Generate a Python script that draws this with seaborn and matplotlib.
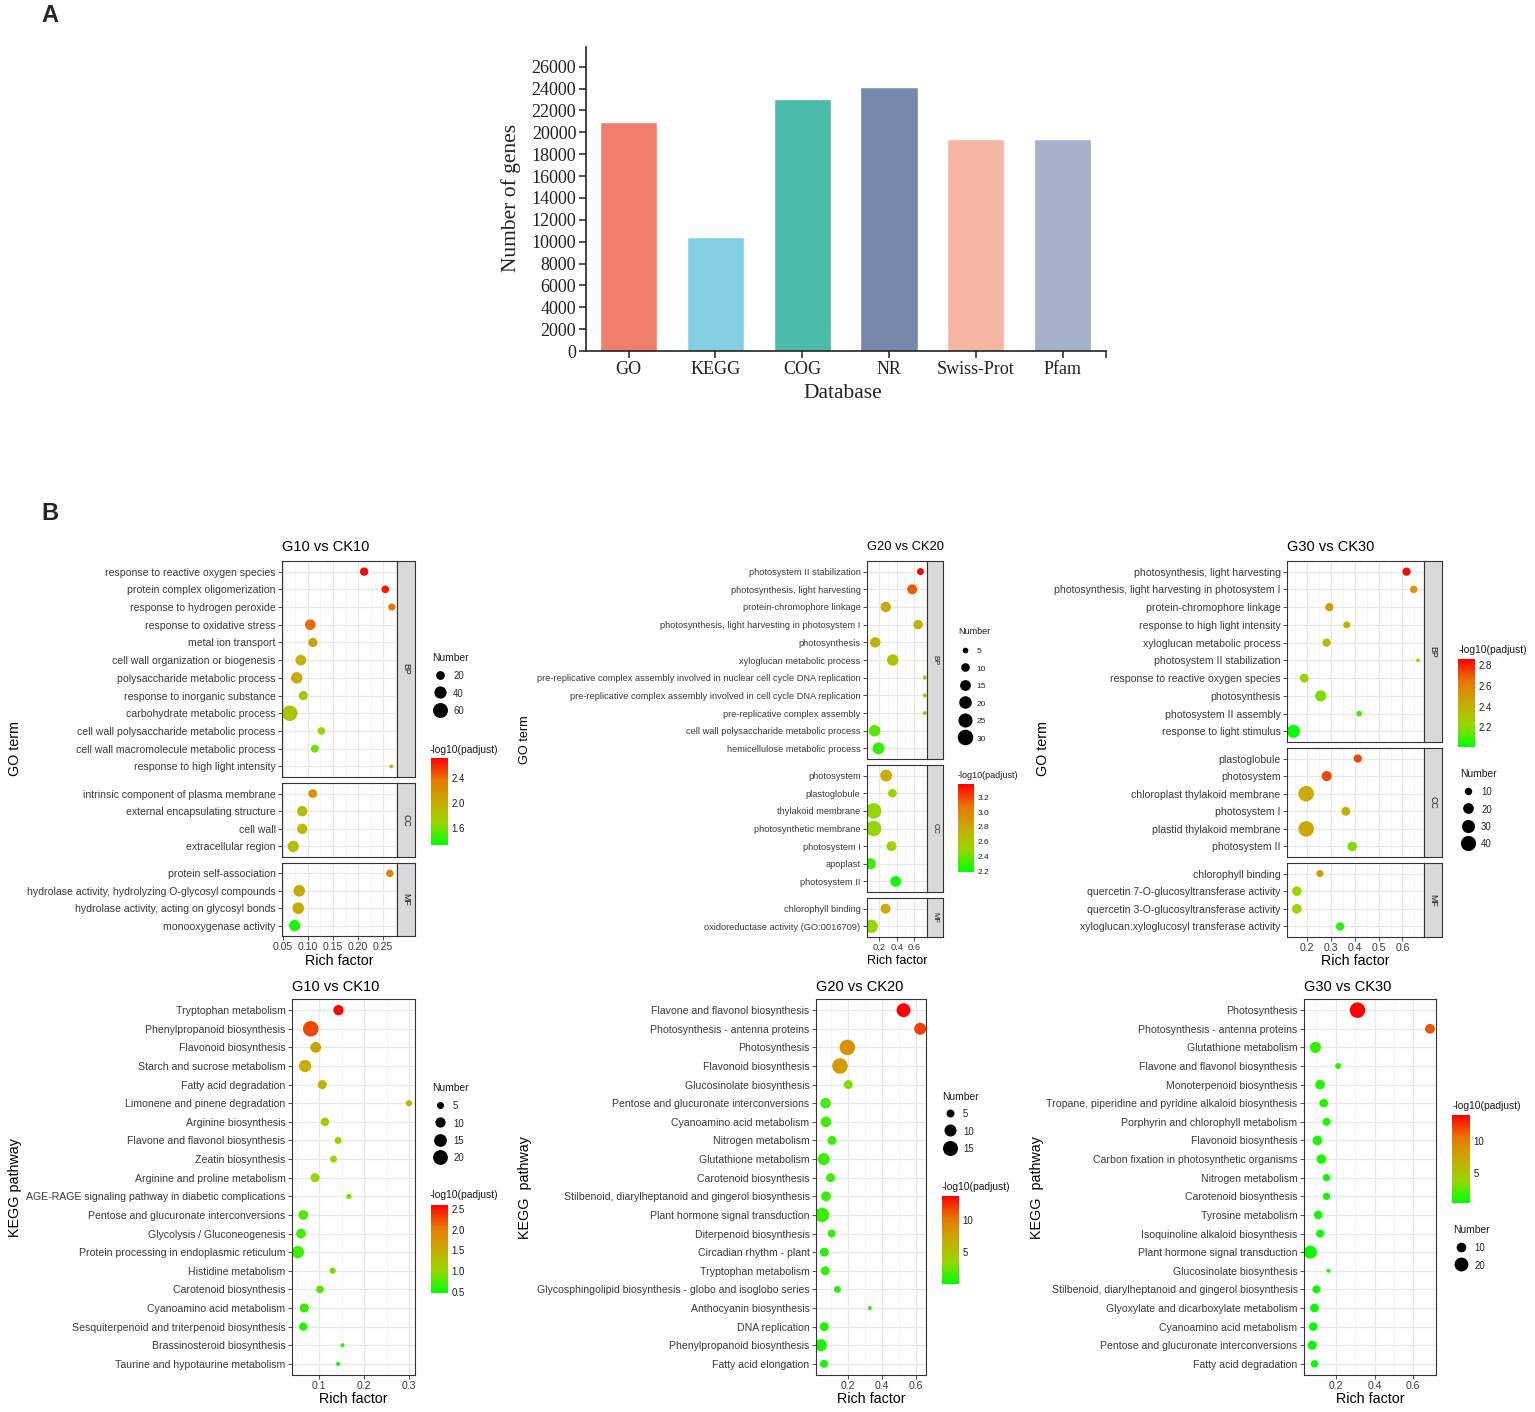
import numpy as np
import pandas as pd
import matplotlib
matplotlib.use("Agg")
import matplotlib.pyplot as plt
import seaborn as sns
from matplotlib.colors import LinearSegmentedColormap, Normalize
from matplotlib.cm import ScalarMappable
from matplotlib.lines import Line2D
from matplotlib.ticker import MultipleLocator, AutoMinorLocator, FormatStrFormatter

W, H = 1535, 1412

# ---------------- A: annotated genes per database ----------------
databases = ["GO", "KEGG", "COG", "NR", "Swiss-Prot", "Pfam"]
gene_counts = [20950, 10420, 23000, 24100, 19370, 19400]
bar_colors = ["#F07F6F", "#84CFE2", "#4ABBA8", "#7887AC", "#F6B5A3", "#A4B1C9"]
count_ticks = list(range(0, 26001, 2000))

# ---------------- B: GO enrichment ----------------
go10_terms = [
    "response to reactive oxygen species", "protein complex oligomerization",
    "response to hydrogen peroxide", "response to oxidative stress", "metal ion transport",
    "cell wall organization or biogenesis", "polysaccharide metabolic process",
    "response to inorganic substance", "carbohydrate metabolic process",
    "cell wall polysaccharide metabolic process", "cell wall macromolecule metabolic process",
    "response to high light intensity",
    "intrinsic component of plasma membrane", "external encapsulating structure", "cell wall",
    "extracellular region",
    "protein self-association", "hydrolase activity, hydrolyzing O-glycosyl compounds",
    "hydrolase activity, acting on glycosyl bonds", "monooxygenase activity"]
go10_class = ["BP"] * 12 + ["CC"] * 4 + ["MF"] * 4
go10_rich = [0.212, 0.254, 0.267, 0.105, 0.110, 0.086, 0.078, 0.091, 0.064, 0.127, 0.114, 0.266,
             0.110, 0.089, 0.089, 0.071, 0.263, 0.083, 0.081, 0.074]
go10_num = [18, 15, 13, 30, 22, 30, 35, 22, 65, 15, 16, 3, 20, 28, 28, 34, 14, 36, 36, 34]
go10_logp = [2.70, 2.65, 2.37, 2.40, 2.09, 1.99, 2.02, 1.81, 1.81, 1.67, 1.57, 1.67,
             2.16, 1.91, 1.91, 1.85, 2.30, 2.02, 2.02, 1.39]
go10_cbar_ticks = [1.6, 2.0, 2.4]
go10_size_keys = [20, 40, 60]

go20_terms = [
    "photosystem II stabilization", "photosynthesis, light harvesting",
    "protein-chromophore linkage", "photosynthesis, light harvesting in photosystem I",
    "photosynthesis", "xyloglucan metabolic process",
    "pre-replicative complex assembly involved in nuclear cell cycle DNA replication",
    "pre-replicative complex assembly involved in cell cycle DNA replication",
    "pre-replicative complex assembly", "cell wall polysaccharide metabolic process",
    "hemicellulose metabolic process",
    "photosystem", "plastoglobule", "thylakoid membrane", "photosynthetic membrane",
    "photosystem I", "apoplast", "photosystem II",
    "chlorophyll binding", "oxidoreductase activity (GO:0016709)"]
go20_class = ["BP"] * 11 + ["CC"] * 7 + ["MF"] * 2
go20_rich = [0.672, 0.577, 0.275, 0.645, 0.155, 0.355, 0.721, 0.721, 0.721, 0.147, 0.192,
             0.279, 0.351, 0.136, 0.136, 0.340, 0.098, 0.389, 0.272, 0.109]
go20_num = [7, 13, 14, 12, 14, 17, 3, 3, 3, 17, 18, 18, 10, 30, 30, 13, 16, 15, 13, 22]
go20_logp = [3.37, 3.14, 2.78, 2.73, 2.73, 2.61, 2.55, 2.55, 2.55, 2.37, 2.29,
             2.78, 2.52, 2.48, 2.48, 2.52, 2.30, 2.22, 2.78, 2.48]
go20_cbar_ticks = [2.2, 2.4, 2.6, 2.8, 3.0, 3.2]
go20_size_keys = [5, 10, 15, 20, 25, 30]

go30_terms = [
    "photosynthesis, light harvesting", "photosynthesis, light harvesting in photosystem I",
    "protein-chromophore linkage", "response to high light intensity",
    "xyloglucan metabolic process", "photosystem II stabilization",
    "response to reactive oxygen species", "photosynthesis", "photosystem II assembly",
    "response to light stimulus",
    "plastoglobule", "photosystem", "chloroplast thylakoid membrane", "photosystem I",
    "plastid thylakoid membrane", "photosystem II",
    "chlorophyll binding", "quercetin 7-O-glucosyltransferase activity",
    "quercetin 3-O-glucosyltransferase activity", "xyloglucan:xyloglucosyl transferase activity"]
go30_class = ["BP"] * 10 + ["CC"] * 6 + ["MF"] * 4
go30_rich = [0.617, 0.647, 0.294, 0.367, 0.283, 0.665, 0.189, 0.258, 0.419, 0.144,
             0.413, 0.283, 0.197, 0.363, 0.197, 0.390, 0.255, 0.158, 0.158, 0.339]
go30_num = [12, 10, 12, 9, 12, 3, 14, 22, 6, 30, 12, 18, 42, 14, 42, 16, 9, 16, 16, 12]
go30_logp = [2.85, 2.52, 2.50, 2.39, 2.36, 2.27, 2.24, 2.18, 2.10, 2.02,
             2.73, 2.73, 2.44, 2.42, 2.44, 2.18, 2.52, 2.22, 2.22, 2.05]
go30_cbar_ticks = [2.2, 2.4, 2.6, 2.8]
go30_size_keys = [10, 20, 30, 40]

# ---------------- B: KEGG enrichment ----------------
kegg10_terms = [
    "Tryptophan metabolism", "Phenylpropanoid biosynthesis", "Flavonoid biosynthesis",
    "Starch and sucrose metabolism", "Fatty acid degradation", "Limonene and pinene degradation",
    "Arginine biosynthesis", "Flavone and flavonol biosynthesis", "Zeatin biosynthesis",
    "Arginine and proline metabolism", "AGE-RAGE signaling pathway in diabetic complications",
    "Pentose and glucuronate interconversions", "Glycolysis / Gluconeogenesis",
    "Protein processing in endoplasmic reticulum", "Histidine metabolism",
    "Carotenoid biosynthesis", "Cyanoamino acid metabolism",
    "Sesquiterpenoid and triterpenoid biosynthesis", "Brassinosteroid biosynthesis",
    "Taurine and hypotaurine metabolism"]
kegg10_rich = [0.143, 0.0815, 0.0926, 0.069, 0.107, 0.299, 0.113, 0.142, 0.132, 0.091,
               0.166, 0.065, 0.060, 0.053, 0.130, 0.102, 0.067, 0.065, 0.152, 0.142]
kegg10_num = [10, 22, 11, 14, 8, 4, 7, 5, 5, 8, 3, 9, 9, 14, 4, 6, 8, 7, 2, 2]
kegg10_logp = [2.58, 2.28, 1.64, 1.49, 1.43, 1.36, 1.11, 1.00, 1.00, 1.05, 0.90, 0.75, 0.70,
               0.68, 0.85, 0.78, 0.64, 0.60, 0.56, 0.50]
kegg10_cbar_ticks = [0.5, 1.0, 1.5, 2.0, 2.5]
kegg10_size_keys = [5, 10, 15, 20]

kegg20_terms = [
    "Flavone and flavonol biosynthesis", "Photosynthesis - antenna proteins", "Photosynthesis",
    "Flavonoid biosynthesis", "Glucosinolate biosynthesis",
    "Pentose and glucuronate interconversions", "Cyanoamino acid metabolism",
    "Nitrogen metabolism", "Glutathione metabolism", "Carotenoid biosynthesis",
    "Stilbenoid, diarylheptanoid and gingerol biosynthesis", "Plant hormone signal transduction",
    "Diterpenoid biosynthesis", "Circadian rhythm - plant", "Tryptophan metabolism",
    "Glycosphingolipid biosynthesis - globo and isoglobo series", "Anthocyanin biosynthesis",
    "DNA replication", "Phenylpropanoid biosynthesis", "Fatty acid elongation"]
kegg20_rich = [0.526, 0.623, 0.198, 0.155, 0.204, 0.071, 0.073, 0.108, 0.060, 0.100,
               0.073, 0.050, 0.106, 0.063, 0.069, 0.140, 0.329, 0.063, 0.044, 0.061]
kegg20_num = [13, 10, 16, 16, 6, 8, 8, 6, 10, 6, 7, 14, 5, 6, 6, 4, 2, 6, 10, 5]
kegg20_logp = [13.7, 12.0, 8.5, 8.0, 2.8, 1.6, 1.5, 1.4, 1.4, 1.3, 1.25, 1.2, 1.1, 1.0, 1.0,
               0.9, 0.8, 0.7, 0.6, 0.5]
kegg20_cbar_ticks = [5, 10]
kegg20_size_keys = [5, 10, 15]

kegg30_terms = [
    "Photosynthesis", "Photosynthesis - antenna proteins", "Glutathione metabolism",
    "Flavone and flavonol biosynthesis", "Monoterpenoid biosynthesis",
    "Tropane, piperidine and pyridine alkaloid biosynthesis",
    "Porphyrin and chlorophyll metabolism", "Flavonoid biosynthesis",
    "Carbon fixation in photosynthetic organisms", "Nitrogen metabolism",
    "Carotenoid biosynthesis", "Tyrosine metabolism", "Isoquinoline alkaloid biosynthesis",
    "Plant hormone signal transduction", "Glucosinolate biosynthesis",
    "Stilbenoid, diarylheptanoid and gingerol biosynthesis",
    "Glyoxylate and dicarboxylate metabolism", "Cyanoamino acid metabolism",
    "Pentose and glucuronate interconversions", "Fatty acid degradation"]
kegg30_rich = [0.312, 0.686, 0.095, 0.212, 0.119, 0.138, 0.152, 0.105, 0.126, 0.152,
               0.152, 0.109, 0.119, 0.069, 0.162, 0.100, 0.090, 0.084, 0.078, 0.090]
kegg30_num = [25, 10, 13, 4, 10, 8, 7, 10, 10, 6, 6, 8, 7, 18, 2, 7, 8, 8, 9, 6]
kegg30_logp = [13.8, 11.5, 1.5, 1.4, 1.3, 1.25, 1.2, 1.15, 1.1, 1.0, 1.0, 0.9, 0.9, 0.85,
               0.8, 0.7, 0.7, 0.6, 0.55, 0.5]
kegg30_cbar_ticks = [5, 10]
kegg30_size_keys = [10, 20]


def px(x0, y0, x1, y1):
    # pixel box (top-left origin) -> figure fraction rect
    return [x0 / W, 1 - y1 / H, (x1 - x0) / W, (y1 - y0) / H]


# ggplot-like green -> red gradient (Lab interpolated stops)
cmap = LinearSegmentedColormap.from_list(
    "g2r", ["#00FF00", "#98D700", "#C9AB00", "#E87600", "#FF0000"])
SIZES = (8, 125)
GREY = "#333333"

sns.set_theme(style="white")
plt.rcParams["font.family"] = ["Liberation Sans", "DejaVu Sans"]

fig = plt.figure(figsize=(W / 100, H / 100), dpi=100)

# ---------------- panel A ----------------
axA = fig.add_axes(px(586, 47, 1106, 351))
sns.barplot(x=databases, y=gene_counts, hue=databases, palette=bar_colors, saturation=1,
            width=0.66, legend=False, ax=axA)
axA.set_xlim(-0.49, 5.5)
axA.set_ylim(0, 27800)
axA.set_yticks(count_ticks)
axA.set_xticks([5.5], minor=True)
axA.spines["top"].set_visible(False)
axA.spines["right"].set_visible(False)
for sp in ["left", "bottom"]:
    axA.spines[sp].set_color("#222222")
    axA.spines[sp].set_linewidth(1.2)
axA.tick_params(which="both", direction="out", length=5, width=1.1, color="#222222",
                labelsize=13, labelcolor="#222222", pad=2, left=True, bottom=True)
for lbl in axA.get_xticklabels() + axA.get_yticklabels():
    lbl.set_fontfamily("Liberation Serif")
axA.set_xlabel("")
axA.set_ylabel("")
fig.text(511 / W, 1 - 198 / H, "Number of genes", rotation=90, ha="center", va="center",
         fontsize=15.5, family="Liberation Serif", color="#222222")
fig.text(843 / W, 1 - 393 / H, "Database", ha="center", va="center",
         fontsize=15.5, family="Liberation Serif", color="#222222")
fig.text(50 / W, 1 - 15 / H, "A", ha="center", va="center", fontsize=17, fontweight="bold")
fig.text(50 / W, 1 - 513 / H, "B", ha="center", va="center", fontsize=17, fontweight="bold")


# ---------------- panel B helpers ----------------
def dot_panel(sp):
    s = sp["scale"]
    df = pd.DataFrame({"term": sp["terms"], "cls": sp["cls"], "rich": sp["rich"],
                       "num": sp["num"], "logp": sp["logp"]})
    size_norm = (df["num"].min(), df["num"].max())
    groups = list(dict.fromkeys(df["cls"]))
    axes = []
    for g, (x0, y0, x1, y1) in zip(groups, sp["boxes"]):
        sub = df[df["cls"] == g]
        ax = fig.add_axes(px(x0, y0, x1, y1))
        sns.scatterplot(data=sub, x="rich", y="term", hue="logp", size="num",
                        palette=cmap, hue_norm=sp["cbar_rng"], sizes=SIZES,
                        size_norm=size_norm, linewidth=0, legend=False, ax=ax)
        ax.set_xlim(sp["xlim"])
        ax.set_ylim(len(sub) - 0.4, -0.6)
        ax.xaxis.set_major_locator(MultipleLocator(sp["step"]))
        ax.xaxis.set_minor_locator(AutoMinorLocator(2))
        ax.xaxis.set_major_formatter(FormatStrFormatter(sp["fmt"]))
        ax.set_facecolor("white")
        ax.grid(True, which="major", color="#E8E8E8", lw=0.9)
        ax.grid(True, which="minor", axis="x", color="#F1F1F1", lw=0.5)
        ax.set_axisbelow(True)
        for spn in ax.spines.values():
            spn.set_visible(True)
            spn.set_color(GREY)
            spn.set_linewidth(0.8)
        ax.tick_params(which="major", length=2.6, width=0.6, color=GREY, labelsize=7.6 * s,
                       labelcolor="#3A3A3A", pad=2.0, left=True, bottom=True)
        ax.tick_params(which="minor", length=0)
        ax.set_xlabel("")
        ax.set_ylabel("")
        if sp["strip"]:
            sax = fig.add_axes(px(x1, y0, x1 + sp["strip"], y1))
            sax.set_facecolor("#D9D9D9")
            sax.set_xticks([])
            sax.set_yticks([])
            for spn in sax.spines.values():
                spn.set_color(GREY)
                spn.set_linewidth(0.8)
            sax.text(0.5, 0.5, g, rotation=-90, ha="center", va="center",
                     fontsize=6.3 * s, color="#1A1A1A", transform=sax.transAxes)
        axes.append(ax)
    for ax in axes[:-1]:
        ax.tick_params(axis="x", bottom=False, labelbottom=False)

    x0, x1 = sp["boxes"][0][0], sp["boxes"][0][2]
    fig.text(x0 / W, 1 - sp["title_y"] / H, sp["title"], ha="left", va="center",
             fontsize=10.5 * s, color="black")
    fig.text((x0 + x1) / 2 / W, 1 - sp["xlab_y"] / H, "Rich factor", ha="center",
             va="center", fontsize=10.3 * s, color="black")
    fig.text(sp["ylab_xy"][0] / W, 1 - sp["ylab_xy"][1] / H, sp["ylab"], rotation=90,
             ha="center", va="center", fontsize=10.3 * s, color="black")

    # colour bar
    cx0, cy0, cx1, cy1 = sp["cbar_box"]
    cax = fig.add_axes(px(cx0, cy0, cx1, cy1))
    cb = fig.colorbar(ScalarMappable(norm=Normalize(*sp["cbar_rng"]), cmap=cmap), cax=cax)
    cb.set_ticks(sp["cbar_ticks"])
    cb.outline.set_visible(False)
    cax.tick_params(axis="y", which="major", left=True, right=True, direction="in",
                    length=3, width=0.7, color="white", labelsize=6.9 * s,
                    labelcolor="#1A1A1A", pad=2.5, labelleft=False, labelright=True)
    cax.tick_params(which="minor", length=0)
    tx, ty = sp["cbar_title_xy"]
    fig.text(tx / W, 1 - ty / H, "-log10(padjust)", ha="left", va="center",
             fontsize=7.4 * s, color="#1A1A1A")

    # size legend: title as text, keys as a legend whose first row sits at row0_y
    lo, hi = size_norm
    fs = 6.9 * s
    handles = []
    for v in sp["keys"]:
        area = SIZES[0] + (SIZES[1] - SIZES[0]) * (v - lo) / (hi - lo)
        handles.append(Line2D([], [], ls="", marker="o", color="black", mew=0,
                              ms=np.sqrt(area)))
    lx, ly = sp["leg_xy"]
    fig.text(lx / W, 1 - ly / H, "Number", ha="left", va="center", fontsize=7.4 * s,
             color="#1A1A1A")
    hh = 1.2
    row_top = sp["row0_y"] - hh * fs * 1.389 / 2
    fig.legend(handles, [str(v) for v in sp["keys"]], loc="upper left",
               bbox_to_anchor=(lx / W, 1 - row_top / H), frameon=False,
               fontsize=fs, borderpad=0, borderaxespad=0, handlelength=1.7,
               handleheight=hh, handletextpad=0.5,
               labelspacing=(13.3 - hh * fs) / fs)


panels = [
    dict(terms=go10_terms, cls=go10_class, rich=go10_rich, num=go10_num, logp=go10_logp,
         boxes=[(282, 561, 397, 777), (282, 783, 397, 857), (282, 863, 397, 936)], strip=18,
         xlim=(0.0487, 0.2773), step=0.05, fmt="%.2f", scale=1.0,
         title="G10 vs CK10", title_y=547, xlab_y=961, ylab="GO term", ylab_xy=(15, 748),
         cbar_rng=(1.32, 2.72), cbar_ticks=go10_cbar_ticks, cbar_box=(431, 758, 448, 845),
         cbar_title_xy=(430, 750), keys=go10_size_keys, leg_xy=(432, 658), row0_y=677),
    dict(terms=go20_terms, cls=go20_class, rich=go20_rich, num=go20_num, logp=go20_logp,
         boxes=[(867, 561, 927, 759), (867, 765, 927, 892), (867, 898, 927, 937)], strip=16,
         xlim=(0.060, 0.747), step=0.2, fmt="%.1f", scale=0.88,
         title="G20 vs CK20", title_y=547, xlab_y=961, ylab="GO term", ylab_xy=(525, 740),
         cbar_rng=(2.19, 3.38), cbar_ticks=go20_cbar_ticks, cbar_box=(958, 784, 974, 872),
         cbar_title_xy=(958, 775), keys=go20_size_keys, leg_xy=(958, 632), row0_y=651),
    dict(terms=go30_terms, cls=go30_class, rich=go30_rich, num=go30_num, logp=go30_logp,
         boxes=[(1287, 561, 1424, 742), (1287, 748, 1424, 857), (1287, 863, 1424, 937)],
         strip=18, xlim=(0.117, 0.690), step=0.1, fmt="%.1f", scale=1.0,
         title="G30 vs CK30", title_y=547, xlab_y=961, ylab="GO term", ylab_xy=(1043, 748),
         cbar_rng=(2.01, 2.86), cbar_ticks=go30_cbar_ticks, cbar_box=(1458, 659, 1475, 747),
         cbar_title_xy=(1459, 650), keys=go30_size_keys, leg_xy=(1460, 774), row0_y=793),
    dict(terms=kegg10_terms, cls=["KEGG"] * len(kegg10_terms), rich=kegg10_rich,
         num=kegg10_num, logp=kegg10_logp, boxes=[(292, 999, 415, 1375)], strip=0,
         xlim=(0.040, 0.3125), step=0.1, fmt="%.1f", scale=1.0,
         title="G10 vs CK10", title_y=987, xlab_y=1399, ylab="KEGG pathway",
         ylab_xy=(15, 1188), cbar_rng=(0.47, 2.6), cbar_ticks=kegg10_cbar_ticks,
         cbar_box=(431, 1205, 448, 1293), cbar_title_xy=(430, 1195), keys=kegg10_size_keys,
         leg_xy=(432, 1088), row0_y=1107),
    dict(terms=kegg20_terms, cls=["KEGG"] * len(kegg20_terms), rich=kegg20_rich,
         num=kegg20_num, logp=kegg20_logp, boxes=[(816, 999, 926, 1375)], strip=0,
         xlim=(0.015, 0.657), step=0.2, fmt="%.1f", scale=1.0,
         title="G20 vs CK20", title_y=987, xlab_y=1399, ylab="KEGG  pathway",
         ylab_xy=(525, 1188), cbar_rng=(0.05, 13.8), cbar_ticks=kegg20_cbar_ticks,
         cbar_box=(942, 1196, 959, 1284), cbar_title_xy=(942, 1187), keys=kegg20_size_keys,
         leg_xy=(942, 1097), row0_y=1115),
    dict(terms=kegg30_terms, cls=["KEGG"] * len(kegg30_terms), rich=kegg30_rich,
         num=kegg30_num, logp=kegg30_logp, boxes=[(1304, 999, 1436, 1375)], strip=0,
         xlim=(0.036, 0.717), step=0.2, fmt="%.1f", scale=1.0,
         title="G30 vs CK30", title_y=987, xlab_y=1399, ylab="KEGG  pathway",
         ylab_xy=(1037, 1188), cbar_rng=(0.5, 13.9), cbar_ticks=kegg30_cbar_ticks,
         cbar_box=(1452, 1115, 1470, 1203), cbar_title_xy=(1453, 1106), keys=kegg30_size_keys,
         leg_xy=(1453, 1230), row0_y=1249),
]

for sp in panels:
    dot_panel(sp)

fig.savefig("out.png", dpi=100)
